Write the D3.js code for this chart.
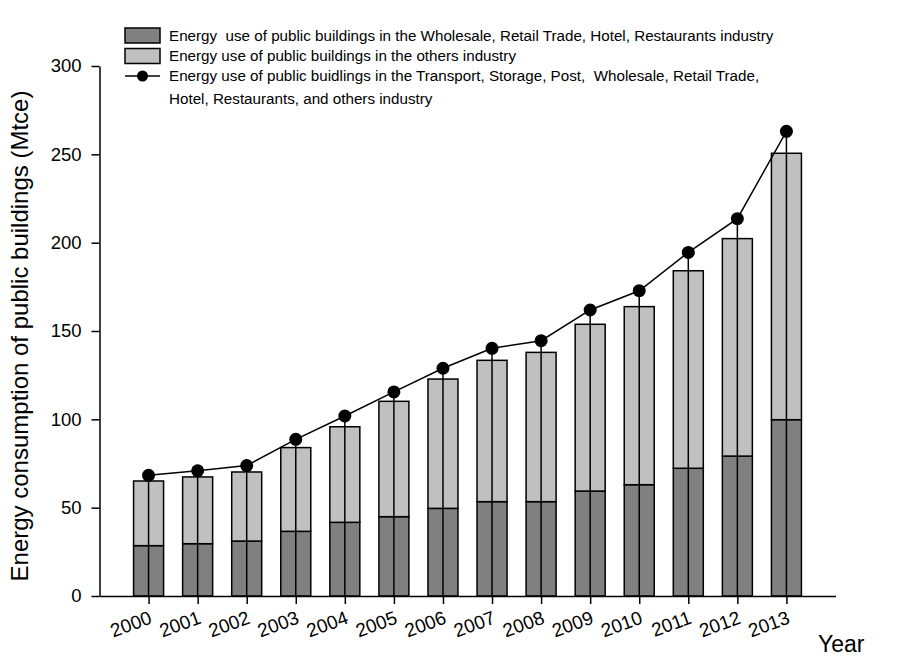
<!DOCTYPE html>
<html>
<head>
<meta charset="utf-8">
<script src="https://cdn.jsdelivr.net/npm/d3@7/dist/d3.min.js"></script>
<style>
  html, body { margin: 0; padding: 0; background: #fff; }
  svg { display: block; font-family: "Liberation Sans", Arial, sans-serif; }
</style>
</head>
<body>
<svg id="chart" width="899" height="665"></svg>
<script>
const years = [2000, 2001, 2002, 2003, 2004, 2005, 2006, 2007, 2008, 2009, 2010, 2011, 2012, 2013];
const wholesale = [28.5, 29.6, 31.1, 36.6, 41.7, 44.9, 49.6, 53.4, 53.4, 59.4, 63.0, 72.3, 79.2, 99.8];
const others = [36.6, 37.8, 39.1, 47.4, 54.1, 65.3, 73.2, 80.0, 84.5, 94.4, 100.8, 111.8, 123.1, 150.8];
const totalAll = [68.3, 70.9, 73.8, 88.7, 101.9, 115.5, 128.9, 140.2, 144.5, 161.9, 172.8, 194.5, 213.6, 263.0];
const yTicks = [0, 50, 100, 150, 200, 250, 300];
const legendLabels = [
  "Energy  use of public buildings in the Wholesale, Retail Trade, Hotel, Restaurants industry",
  "Energy use of public buildings in the others industry",
  "Energy use of public buidlings in the Transport, Storage, Post,  Wholesale, Retail Trade,",
  "Hotel, Restaurants, and others industry"
];
const colors = { wholesale: "#808080", others: "#c0c0c0" };

const svg = d3.select("#chart");
const x = d3.scaleLinear().domain([1999, 2014]).range([99.5, 835.5]);
const y = d3.scaleLinear().domain([0, 300]).range([596, 66]);
const barW = 30;

const table = years.map((yr, i) => ({ year: yr, wholesale: wholesale[i], others: others[i], total: totalAll[i] }));
const stack = d3.stack().keys(["wholesale", "others"])(table);

// bars
const g = svg.append("g");
stack.forEach(layer => {
  g.append("g").selectAll("rect").data(layer).join("rect")
    .attr("x", d => x(d.data.year) - barW / 2)
    .attr("y", d => y(d[1]))
    .attr("width", barW)
    .attr("height", d => y(d[0]) - y(d[1]))
    .attr("fill", colors[layer.key])
    .attr("stroke", "#000")
    .attr("stroke-width", 1.5);
});

// drop lines
g.append("g").selectAll("line").data(table).join("line")
  .attr("x1", d => x(d.year)).attr("x2", d => x(d.year))
  .attr("y1", d => y(d.total)).attr("y2", y(0))
  .attr("stroke", "#000").attr("stroke-width", 1.5);

// line
g.append("path").datum(table)
  .attr("fill", "none").attr("stroke", "#000").attr("stroke-width", 1.5)
  .attr("d", d3.line().x(d => x(d.year)).y(d => y(d.total)));

g.append("g").selectAll("circle").data(table).join("circle")
  .attr("cx", d => x(d.year)).attr("cy", d => y(d.total)).attr("r", 6.5)
  .attr("fill", "#000");

// axes
const yAxis = svg.append("g").attr("transform", `translate(${x(1999)},0)`)
  .call(d3.axisLeft(y).tickValues(yTicks).tickSize(8).tickSizeOuter(0).tickPadding(10));
yAxis.selectAll("text").attr("font-size", 18.5).attr("fill", "#000").attr("font-family", "Liberation Sans, Arial, sans-serif");
yAxis.selectAll("line,path").attr("stroke", "#000").attr("stroke-width", 1.5);

const xAxis = svg.append("g").attr("transform", `translate(0,${y(0)})`)
  .call(d3.axisBottom(x).tickValues(years).tickSize(8).tickSizeOuter(0).tickFormat(d3.format("d")));
xAxis.selectAll("line,path").attr("stroke", "#000").attr("stroke-width", 1.5);
xAxis.selectAll("text")
  .attr("font-size", 19).attr("fill", "#000").attr("font-family", "Liberation Sans, Arial, sans-serif")
  .attr("text-anchor", "end").attr("y", 0).attr("dy", 0)
  .attr("transform", "translate(4,27) rotate(-20)");

// axis titles
svg.append("text")
  .attr("transform", `translate(27.5,336) rotate(-90)`)
  .attr("text-anchor", "middle").attr("font-size", 24).attr("fill", "#000")
  .text("Energy consumption of public buildings (Mtce)");
svg.append("text").attr("x", 818).attr("y", 652).attr("font-size", 23).attr("fill", "#000").text("Year");

// legend
const lg = svg.append("g");
lg.append("rect").attr("x", 125).attr("y", 28).attr("width", 35).attr("height", 15)
  .attr("fill", colors.wholesale).attr("stroke", "#000").attr("stroke-width", 1.5);
lg.append("rect").attr("x", 125).attr("y", 48.5).attr("width", 35).attr("height", 15)
  .attr("fill", colors.others).attr("stroke", "#000").attr("stroke-width", 1.5);
lg.append("line").attr("x1", 125).attr("x2", 160).attr("y1", 76).attr("y2", 76)
  .attr("stroke", "#000").attr("stroke-width", 1.5);
lg.append("circle").attr("cx", 142.5).attr("cy", 76).attr("r", 5.5).attr("fill", "#000");
const baselines = [41, 60.5, 80.5, 103.5];
lg.selectAll("text.lt").data(legendLabels).join("text").attr("class", "lt")
  .attr("x", 169).attr("y", (d, i) => baselines[i])
  .attr("font-size", 15.2).attr("fill", "#000").style("white-space", "pre")
  .text(d => d);
</script>
</body>
</html>
